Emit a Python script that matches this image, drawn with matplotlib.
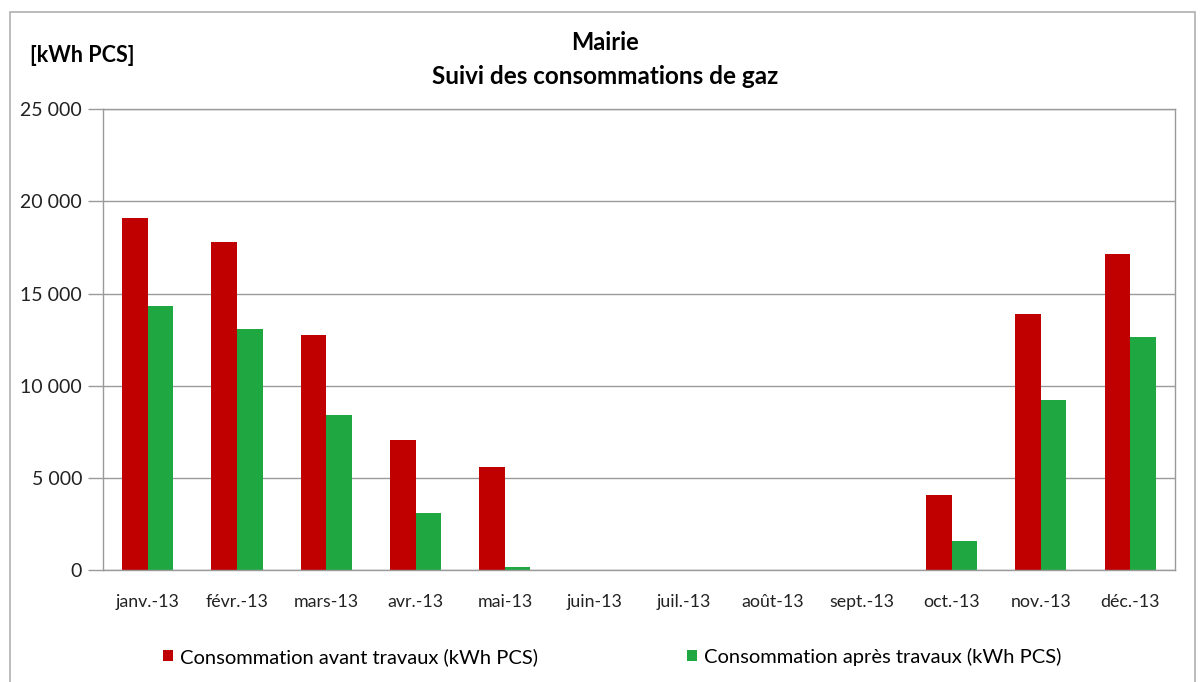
import numpy as np
import matplotlib
matplotlib.use("Agg")
import matplotlib.pyplot as plt
from matplotlib.patches import Rectangle
from matplotlib.ticker import FuncFormatter

plt.rcParams["font.family"] = ["Lato", "DejaVu Sans"]

months = ["janv.-13", "févr.-13", "mars-13", "avr.-13", "mai-13", "juin-13",
          "juil.-13", "août-13", "sept.-13", "oct.-13", "nov.-13", "déc.-13"]
avant = [19100, 17800, 12750, 7050, 5600, 0, 0, 0, 0, 4070, 13900, 17150]
apres = [14300, 13100, 8400, 3100, 150, 0, 0, 0, 0, 1570, 9200, 12650]

RED = "#C00000"
GREEN = "#1FA842"

fig = plt.figure(figsize=(12.03, 6.82), dpi=100)
ax = fig.add_axes([0.0856, 0.164, 0.891, 0.676])

x = np.arange(len(months))
w = 0.286
ax.bar(x - w / 2, avant, w, color=RED, label="Consommation avant travaux (kWh PCS)")
ax.bar(x + w / 2, apres, w, color=GREEN, label="Consommation après travaux (kWh PCS)")

ax.set_xlim(-0.5, len(months) - 0.5)
ax.set_ylim(0, 25000)
ax.set_yticks(np.arange(0, 25001, 5000))
ax.yaxis.set_major_formatter(FuncFormatter(lambda v, _: f"{int(v):,}".replace(",", " ")))
ax.set_xticks(x)
ax.set_xticklabels(months)
ax.tick_params(axis="x", length=0, pad=17, labelsize=12.8, colors="#222222")
ax.tick_params(axis="y", length=11, width=1, color="#9a9a9a", pad=4, labelsize=14, colors="#222222")
ax.grid(axis="y", color="#9a9a9a", linewidth=1)
ax.set_axisbelow(True)
for s in ax.spines.values():
    s.set_color("#9a9a9a")
    s.set_linewidth(1)

fig.text(0.503, 0.938, "Mairie", ha="center", va="center", fontsize=17, fontweight="bold")
fig.text(0.503, 0.888, "Suivi des consommations de gaz", ha="center", va="center",
         fontsize=17.5, fontweight="bold")
fig.text(0.025, 0.918, "[kWh PCS]", ha="left", va="center", fontsize=15.5, fontweight="bold")

leg = fig.legend(loc="center", bbox_to_anchor=(0.509, 0.037), ncol=2, frameon=False,
                 fontsize=14.5, handlelength=0.5, handleheight=0.5, handletextpad=0.35,
                 columnspacing=7.4)

# outer chart border
fig.patches.append(Rectangle((0.008, -0.01), 0.985, 0.992, transform=fig.transFigure,
                             fill=False, edgecolor="#b0b0b0", linewidth=1.2))

fig.savefig("out.png", dpi=100)
